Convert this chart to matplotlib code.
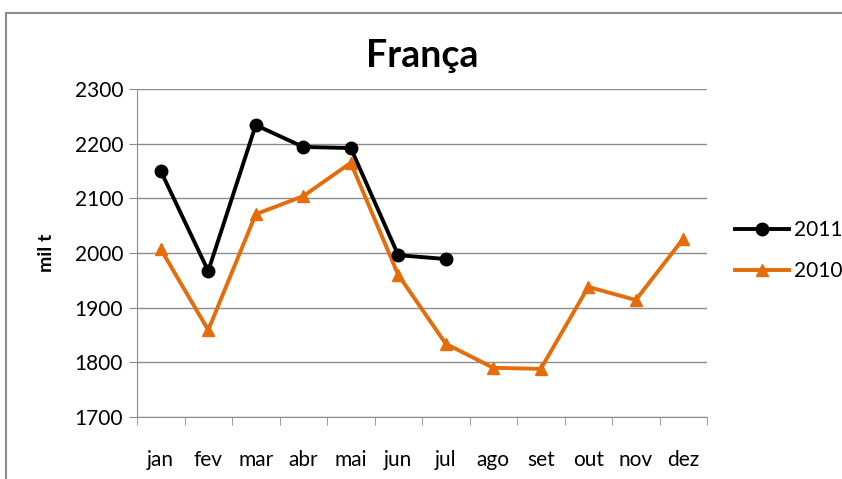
import matplotlib
matplotlib.use("Agg")
import matplotlib.pyplot as plt
from matplotlib.patches import Rectangle

months = ["jan", "fev", "mar", "abr", "mai", "jun", "jul", "ago", "set", "out", "nov", "dez"]
s2011 = [2150, 1967, 2234, 2194, 2192, 1996, 1989]
s2010 = [2007, 1859, 2071, 2104, 2165, 1960, 1834, 1790, 1788, 1938, 1914, 2026]
yticks = [1700, 1800, 1900, 2000, 2100, 2200, 2300]

plt.rcParams["font.family"] = ["Lato", "DejaVu Sans"]

fig = plt.figure(figsize=(8.42, 4.79), dpi=100)
fig.patches.append(Rectangle((6/842, -0.1), 1.2, 1 - 13/479 + 0.1, transform=fig.transFigure,
                             fill=False, edgecolor="#8c8c8c", linewidth=1.5))
ax = fig.add_axes([137/842, 1 - 417/479, (707-137)/842, (417-89)/479])

x11 = list(range(len(s2011)))
x10 = list(range(len(s2010)))
ax.plot(x11, s2011, color="black", linewidth=2.8, marker="o", markersize=9, label="2011", zorder=3)
ax.plot(x10, s2010, color="#E46C0A", linewidth=2.8, marker="^", markersize=9, label="2010", zorder=2)

ax.set_xlim(-0.5, 11.5)
ax.set_ylim(1700, 2300)
ax.set_yticks(yticks)
ax.set_yticklabels([str(v) for v in yticks], fontsize=15)
ax.set_xticks(range(12))
ax.set_xticklabels(months, fontsize=15)
ax.tick_params(axis="x", which="major", length=0, pad=24)
ax.set_xticks([i - 0.5 for i in range(13)], minor=True)
ax.tick_params(axis="x", which="minor", length=6, color="#8c8c8c", direction="out")
ax.tick_params(axis="y", length=6, color="#8c8c8c", pad=4)
ax.grid(axis="y", color="#8c8c8c", linewidth=1)
ax.set_axisbelow(True)
for s in ["top", "right"]:
    ax.spines[s].set_visible(False)
for s in ["left", "bottom"]:
    ax.spines[s].set_color("#8c8c8c")
ax.set_ylabel("mil t", fontsize=14, fontweight="bold", labelpad=14)
ax.set_title("França", fontsize=27, fontweight="bold", pad=16)

leg = fig.legend(*ax.get_legend_handles_labels(), loc="upper left",
                 bbox_to_anchor=(735/842, 1 - 220/479), frameon=False, fontsize=15,
                 handlelength=2.6, handletextpad=0.25, labelspacing=1.0,
                 borderpad=0, borderaxespad=0)

fig.savefig("out.png", dpi=100)
